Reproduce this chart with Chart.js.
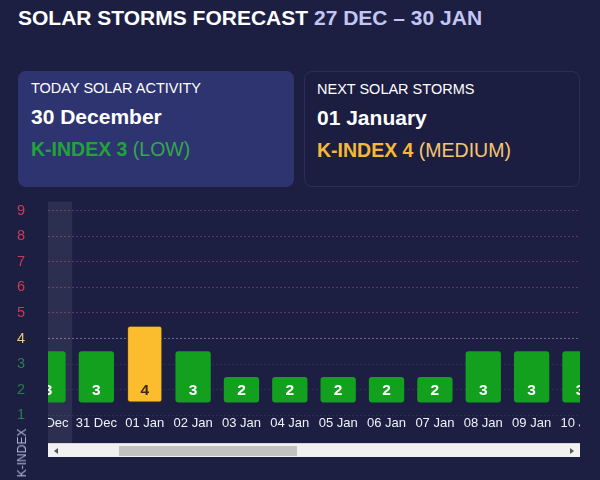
<!DOCTYPE html>
<html>
<head>
<meta charset="utf-8">
<script src="https://cdn.jsdelivr.net/npm/chart.js@4"></script>
<style>
  html, body { margin: 0; padding: 0; }
  body {
    width: 600px; height: 480px; overflow: hidden; position: relative;
    background: #1d1f42; color: #fff;
    font-family: 'Liberation Sans', Arial, sans-serif;
  }
  .title { position: absolute; left: 18px; top: 6px; font-size: 21px; font-weight: bold; white-space: nowrap; }
  .title span { color: #c3c6f3; }
  .card { position: absolute; top: 71px; width: 276px; height: 116px; border-radius: 8px; box-sizing: border-box; }
  .card.today { left: 18px; background: #2e3470; }
  .card.next { left: 304px; background: #1c1e41; border: 1px solid #2b2e5c; }
  .card .cap { position: absolute; left: 13px; top: 9px; font-size: 14.5px; white-space: nowrap; }
  .card .date { position: absolute; left: 13px; top: 34px; font-size: 21px; font-weight: bold; }
  .card .kidx { position: absolute; left: 13px; top: 67px; font-size: 19.5px; white-space: nowrap; }
  .card.next .cap, .card.next .date, .card.next .kidx { left: 12px; }
  .kidx b { font-weight: bold; }
  .low { color: #21a33b; }
  .low span { color: #33a84e; }
  .med { color: #f6b83a; }
  .med span { color: #f4c670; }
  #wrap { position: absolute; left: 0; top: 170px; width: 600px; height: 277px; }
  .ytitle {
    position: absolute; left: 22px; top: 453px; font-size: 12px; color: #aeb2d6;
    transform: translate(-50%, -50%) rotate(-90deg); white-space: nowrap;
  }
  .sbar { position: absolute; left: 48px; top: 443px; width: 532px; height: 14px; background: #f1f1f1; box-sizing: border-box; border-top: 1px solid #d8d8d8; }
  .sbar .thumb { position: absolute; left: 71px; top: 2px; width: 178px; height: 10px; background: #c2c2c2; }
  .sbar .al, .sbar .ar { position: absolute; top: 4px; width: 0; height: 0; border-top: 3px solid transparent; border-bottom: 3px solid transparent; }
  .sbar .al { left: 6px; border-right: 4px solid #555; }
  .sbar .ar { right: 6px; border-left: 4px solid #555; }
</style>
</head>
<body>
<div class="title">SOLAR STORMS FORECAST <span>27 DEC – 30 JAN</span></div>

<div class="card today">
  <div class="cap">TODAY SOLAR ACTIVITY</div>
  <div class="date">30 December</div>
  <div class="kidx low"><b>K-INDEX 3</b> <span>(LOW)</span></div>
</div>
<div class="card next">
  <div class="cap">NEXT SOLAR STORMS</div>
  <div class="date">01 January</div>
  <div class="kidx med"><b>K-INDEX 4</b> <span>(MEDIUM)</span></div>
</div>

<div id="wrap"><canvas id="kp-chart"></canvas></div>
<div class="ytitle">K-INDEX</div>
<div class="sbar"><div class="al"></div><div class="thumb"></div><div class="ar"></div></div>

<script>
// 資料
var dayLabels = ['30 Dec', '31 Dec', '01 Jan', '02 Jan', '03 Jan', '04 Jan', '05 Jan', '06 Jan', '07 Jan', '08 Jan', '09 Jan', '10 Jan'];
var kIndex = [3, 3, 4, 3, 2, 2, 2, 2, 2, 3, 3, 3];
var yTicks = [1, 2, 3, 4, 5, 6, 7, 8, 9];
var todayIndex = 0;
var barBase = 1.5; // 柱子從 1.5 開始畫

// 依 K 值取顏色
function levelColor(v) {
    if (v >= 5) return '#cc3a55';
    if (v === 4) return '#ecc685';
    return '#2b7d4e';
}
function barColor(v) {
    return v >= 4 ? '#fbbd2e' : '#12a01e';
}

// 今日欄位底色
var todayBand = {
    id: 'todayBand',
    beforeDatasetsDraw: function(chart) {
        var x = chart.scales.x, area = chart.chartArea, ctx = chart.ctx;
        var step = x.getPixelForValue(1) - x.getPixelForValue(0);
        var cx = x.getPixelForValue(todayIndex);
        var left = Math.max(area.left, cx - step / 2);
        var top = chart.scales.y.getPixelForValue(9.35);
        ctx.save();
        ctx.fillStyle = 'rgba(255,255,255,0.075)';
        ctx.fillRect(left, top, cx + step / 2 - left, chart.height - top);
        ctx.restore();
    }
};

// 柱內數字與日期標籤（裁切在捲動區內）
var barText = {
    id: 'barText',
    afterDatasetsDraw: function(chart) {
        var x = chart.scales.x, y = chart.scales.y, area = chart.chartArea, ctx = chart.ctx;
        ctx.save();
        ctx.beginPath();
        ctx.rect(area.left, 0, area.right - area.left, chart.height);
        ctx.clip();
        ctx.textAlign = 'center';
        ctx.textBaseline = 'middle';
        kIndex.forEach(function(v, i) {
            var px = x.getPixelForValue(i);
            ctx.font = 'bold 15.5px "Liberation Sans", Arial, sans-serif';
            ctx.fillStyle = v >= 4 ? '#3b2a0c' : '#ffffff';
            ctx.fillText(String(v), px, y.getPixelForValue(barBase + 0.5) + 0.5);
            ctx.font = '13px "Liberation Sans", Arial, sans-serif';
            ctx.fillStyle = '#f0f1f8';
            ctx.fillText(dayLabels[i], px, area.bottom + 8);
        });
        ctx.restore();
    }
};

var ctx = document.getElementById('kp-chart').getContext('2d');
var kpChart = new Chart(ctx, {
    type: 'bar',
    data: {
        labels: dayLabels,
        datasets: [{
            label: 'K-INDEX',
            data: kIndex.map(function(v) { return [barBase, v + 0.5]; }),
            backgroundColor: kIndex.map(barColor),
            borderColor: kIndex.map(function(v) { return v >= 4 ? '#4a3410' : '#0f8f1a'; }),
            borderWidth: kIndex.map(function(v) { return v >= 4 ? 1 : 0; }),
            borderRadius: 3,
            borderSkipped: false,
            barPercentage: 0.73,
            categoryPercentage: 1
        }]
    },
    options: {
        responsive: true,
        maintainAspectRatio: false,
        animation: false,
        layout: { padding: { top: 6, right: 20, bottom: 0, left: 0 } },
        plugins: { legend: { display: false }, tooltip: { enabled: false } },
        scales: {
            x: {
                offset: false,
                grid: { display: false },
                border: { display: false },
                ticks: { display: false },
                afterFit: function(scale) { scale.height = 28; }
            },
            y: {
                min: 1,
                max: 9.35,
                afterBuildTicks: function(scale) {
                    scale.ticks = yTicks.map(function(v) { return { value: v }; });
                },
                afterFit: function(scale) { scale.width = 48; },
                grid: {
                    drawTicks: false,
                    lineWidth: 1,
                    color: function(c) {
                        var v = c.tick && c.tick.value;
                        if (v >= 5) return 'rgba(190,80,130,0.45)';
                        if (v === 4) return 'rgba(210,200,215,0.45)';
                        return 'rgba(255,255,255,0.07)';
                    }
                },
                border: { display: false, dash: [2, 2] },
                ticks: {
                    padding: 23,
                    font: { size: 14.5, family: '"Liberation Sans", Arial, sans-serif' },
                    color: function(c) { return levelColor(c.tick.value); }
                }
            }
        }
    },
    plugins: [todayBand, barText]
});
</script>
</body>
</html>
